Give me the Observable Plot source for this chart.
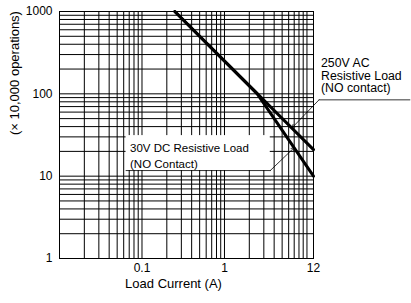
<!DOCTYPE html>
<html>
<head>
<meta charset="utf-8">
<script src="https://cdn.jsdelivr.net/npm/d3@7"></script>
<script src="https://cdn.jsdelivr.net/npm/@observablehq/plot@0.6"></script>
<style>
  html, body { margin: 0; padding: 0; background: #fff; }
  #chart svg { display: block; }
</style>
</head>
<body>
<div id="chart"></div>
<script>
// Series
const acCurrent = [0.25, 12];
const acOps = [1000, 21];
const dcCurrent = [0.25, 2.5, 12];
const dcOps = [1000, 100, 10];

// Axis tick labels
const xTicks = [0.1, 1, 12];
const yTicks = [1, 10, 100, 1000];

// Log grid lines
const xGrid = [0.01, 0.02, 0.03, 0.04, 0.05, 0.06, 0.07, 0.08, 0.09,
               0.1, 0.2, 0.3, 0.4, 0.5, 0.6, 0.7, 0.8, 0.9,
               1, 2, 3, 4, 5, 6, 7, 8, 9, 10];
const yGrid = [1, 2, 3, 4, 5, 6, 7, 8, 9,
               10, 20, 30, 40, 50, 60, 70, 80, 90,
               100, 200, 300, 400, 500, 600, 700, 800, 900, 1000];

// Texts
const acLabel = ["250V AC", "Resistive Load", "(NO contact)"];
const dcLabel = "30V DC Resistive Load\n(NO Contact)";
const xLabel = "Load Current (A)";
const yLabel = "(× 10,000 operations)";

const ac = acCurrent.map((c, i) => ({current: c, ops: acOps[i]}));
const dc = dcCurrent.map((c, i) => ({current: c, ops: dcOps[i]}));

const acText = {x: 14.8, textAnchor: "start", lineAnchor: "top", fontSize: 12.3, text: d => d};

const chart = Plot.plot({
  width: 411,
  height: 303,
  marginLeft: 59,
  marginRight: 98,
  marginTop: 11,
  marginBottom: 45,
  style: {fontFamily: "'Liberation Sans', Arial, sans-serif", fontSize: "12px", background: "#fff", color: "#000", overflow: "visible"},
  x: {type: "log", domain: [0.01, 12]},
  y: {type: "log", domain: [1, 1000]},
  marks: [
    Plot.ruleX(xGrid, {stroke: "#000", strokeWidth: 1}),
    Plot.ruleY(yGrid, {stroke: "#000", strokeWidth: 1}),
    Plot.frame({stroke: "#000", strokeWidth: 1}),
    // white annotation box for DC label
    Plot.rect([0], {x1: 0.0641, x2: 3.59, y1: 11.7, y2: 31.1, fill: "#fff"}),
    Plot.line([{x: 0.0641, y: 11.7}, {x: 3.59, y: 11.7}], {x: "x", y: "y", stroke: "#000", strokeWidth: 0.8}),
    Plot.arrow([0], {x1: 3.59, y1: 11.7, x2: 7.0, y2: 22.2, stroke: "#000", strokeWidth: 0.8, headLength: 6}),
    // AC leader
    Plot.line([{x: 14.0, y: 84.5}, {x: 176.8, y: 84.5}], {x: "x", y: "y", stroke: "#000", strokeWidth: 0.8}),
    Plot.arrow([0], {x1: 14.0, y1: 84.5, x2: 6.63, y2: 38.9, stroke: "#000", strokeWidth: 0.8, headLength: 6}),
    // curves
    Plot.line(ac, {x: "current", y: "ops", stroke: "#000", strokeWidth: 3}),
    Plot.line(dc, {x: "current", y: "ops", stroke: "#000", strokeWidth: 3}),
    // axes
    Plot.axisX({ticks: xTicks, tickSize: 0, tickPadding: 5, tickFormat: d => String(d), label: null, fontSize: 12}),
    Plot.axisY({ticks: yTicks, tickSize: 0, tickPadding: 7, tickFormat: d => String(d), label: null, fontSize: 12}),
    // labels
    Plot.text([acLabel[0]], {...acText, y: 268.5}),
    Plot.text([acLabel[1]], {...acText, y: 189.2}),
    Plot.text([acLabel[2]], {...acText, y: 133.4}),
    Plot.text([dcLabel], {x: 0.0716, y: 27.1, text: d => d, textAnchor: "start", lineAnchor: "top", lineHeight: 1.42, fontSize: 11.5}),
    Plot.text([xLabel], {frameAnchor: "bottom", dx: -13, dy: 25, text: d => d, lineAnchor: "middle", fontSize: 13}),
    Plot.text([yLabel], {frameAnchor: "left", dx: -45, rotate: -90, text: d => d, lineAnchor: "middle", fontSize: 13})
  ]
});
document.getElementById("chart").appendChild(chart);
</script>
</body>
</html>
